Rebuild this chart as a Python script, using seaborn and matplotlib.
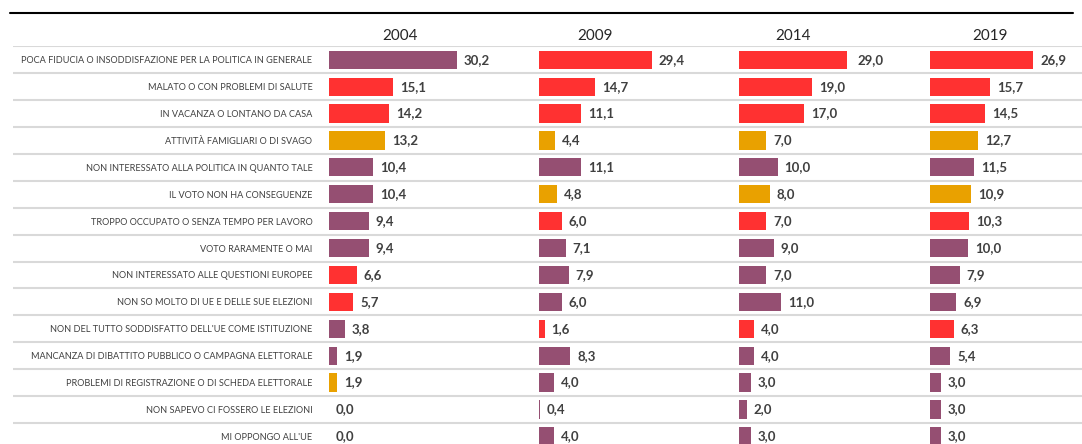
import numpy as np
import pandas as pd
import matplotlib.pyplot as plt
from matplotlib.lines import Line2D
import seaborn as sns

# Data
motivi = [
    "POCA FIDUCIA O INSODDISFAZIONE PER LA POLITICA IN GENERALE",
    "MALATO O CON PROBLEMI DI SALUTE",
    "IN VACANZA O LONTANO DA CASA",
    "ATTIVITÀ FAMIGLIARI O DI SVAGO",
    "NON INTERESSATO ALLA POLITICA IN QUANTO TALE",
    "IL VOTO NON HA CONSEGUENZE",
    "TROPPO OCCUPATO O SENZA TEMPO PER LAVORO",
    "VOTO RARAMENTE O MAI",
    "NON INTERESSATO ALLE QUESTIONI EUROPEE",
    "NON SO MOLTO DI UE E DELLE SUE ELEZIONI",
    "NON DEL TUTTO SODDISFATTO DELL'UE COME ISTITUZIONE",
    "MANCANZA DI DIBATTITO PUBBLICO O CAMPAGNA ELETTORALE",
    "PROBLEMI DI REGISTRAZIONE O DI SCHEDA ELETTORALE",
    "NON SAPEVO CI FOSSERO LE ELEZIONI",
    "MI OPPONGO ALL'UE",
]
anni = ["2004", "2009", "2014", "2019"]

val_2004 = [30.2, 15.1, 14.2, 13.2, 10.4, 10.4, 9.4, 9.4, 6.6, 5.7, 3.8, 1.9, 1.9, 0.0, 0.0]
val_2009 = [29.4, 14.7, 11.1, 4.4, 11.1, 4.8, 6.0, 7.1, 7.9, 6.0, 1.6, 8.3, 4.0, 0.4, 4.0]
val_2014 = [29.0, 19.0, 17.0, 7.0, 10.0, 8.0, 7.0, 9.0, 7.0, 11.0, 4.0, 4.0, 3.0, 2.0, 3.0]
val_2019 = [26.9, 15.7, 14.5, 12.7, 11.5, 10.9, 10.3, 10.0, 7.9, 6.9, 6.3, 5.4, 3.0, 3.0, 3.0]

# colour group of each bar (P = viola, R = rosso, O = arancio)
gruppi_2004 = ["P", "R", "R", "O", "P", "P", "P", "P", "R", "R", "P", "P", "O", "P", "P"]
gruppi_2009 = ["R", "R", "R", "O", "P", "O", "R", "P", "P", "P", "R", "P", "P", "P", "P"]
gruppi_2014 = ["R", "R", "R", "O", "P", "O", "R", "P", "P", "P", "R", "P", "P", "P", "P"]
gruppi_2019 = ["R", "R", "R", "O", "P", "O", "R", "P", "P", "P", "R", "P", "P", "P", "P"]

valori = [val_2004, val_2009, val_2014, val_2019]
gruppi = [gruppi_2004, gruppi_2009, gruppi_2014, gruppi_2019]
colori = {"P": "#954F72", "R": "#FF3131", "O": "#E9A100"}

sns.set_style("white")
plt.rcParams["font.family"] = ["Lato", "DejaVu Sans"]

W, H = 1082, 444
fig = plt.figure(figsize=(W / 100, H / 100), dpi=100)

# layout (pixels)
row_h = 26.9
top_px = 46.3
n = len(motivi)
ax_bottom = (H - (top_px + n * row_h)) / H
ax_height = n * row_h / H
lefts = [329, 538.5, 739, 929.5]
widths = [142, 113, 108, 121]
px_per_unit = [4.23, 3.85, 3.85, 3.85]
grey = "#404040"

# row separators across the full width
bg = fig.add_axes([13 / W, ax_bottom, 1 - 13 / W, ax_height], zorder=0)
bg.hlines(np.arange(-0.5, n), 0, 1, color="#D9D9D9", linewidth=1.5)
bg.set_xlim(0, 1)
bg.set_ylim(n - 0.5, -0.5)
bg.axis("off")

# top rule
fig.add_artist(Line2D([10 / W, 1073 / W], [1 - 13 / H, 1 - 13 / H], color="black", linewidth=1.5))

for k, anno in enumerate(anni):
    df = pd.DataFrame({"motivo": motivi, "valore": valori[k], "gruppo": gruppi[k]})
    ax = fig.add_axes([lefts[k] / W, ax_bottom, widths[k] / W, ax_height], zorder=1)
    ax.patch.set_alpha(0)
    sns.barplot(data=df, y="motivo", x="valore", hue="gruppo", order=motivi,
                palette=colori, dodge=False, width=0.68, linewidth=0,
                saturation=1, legend=False, ax=ax)
    for i, v in enumerate(valori[k]):
        ax.annotate(f"{v:.1f}".replace(".", ","), (v, i), xytext=(5, 0),
                    textcoords="offset points", va="center", ha="left",
                    fontsize=9.5, fontweight="bold", color=grey, annotation_clip=False)
    ax.set_xlim(0, widths[k] / px_per_unit[k])
    ax.set_ylim(n - 0.5, -0.5)
    ax.set_title(anno, fontsize=11, color="#262626", pad=4.5)
    ax.set_xlabel("")
    ax.set_ylabel("")
    ax.set_xticks([])
    sns.despine(ax=ax, left=True, bottom=True)
    if k == 0:
        ax.tick_params(axis="y", length=0, pad=12, labelsize=6.6, labelcolor=grey)
    else:
        ax.set_yticks([])

plt.savefig("out.png", dpi=100)
